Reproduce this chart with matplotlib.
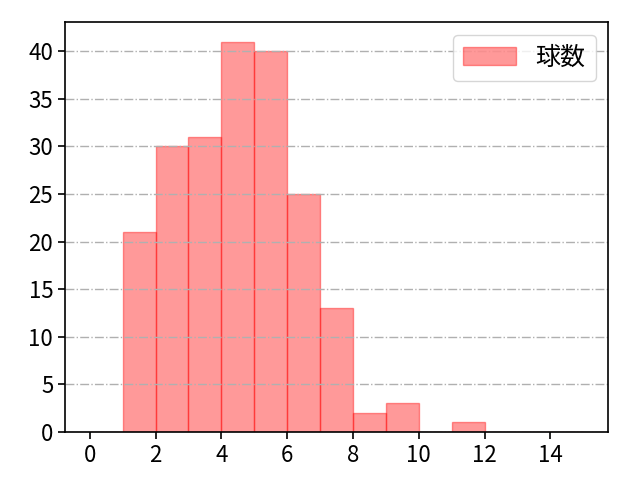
import matplotlib
matplotlib.use("Agg")
import matplotlib.pyplot as plt
import numpy as np

plt.rcParams['font.family'] = ['Noto Sans CJK JP', 'DejaVu Sans']

bin_edges = list(range(0, 16))
counts = [0, 21, 30, 31, 41, 40, 25, 13, 2, 3, 0, 1, 0, 0, 0]
label = '球数'

fig, ax = plt.subplots(figsize=(6.4, 4.8), dpi=100)
centers = [(bin_edges[i] + bin_edges[i + 1]) / 2 for i in range(len(counts))]
ax.hist(centers, bins=bin_edges, weights=counts, color='red', alpha=0.4,
        edgecolor='red', linewidth=1, label=label)
ax.set_xticks(range(0, 15, 2))
ax.grid(axis='y', linestyle='-.', color='#b0b0b0', linewidth=1)
for s in ax.spines.values():
    s.set_linewidth(1.2)
ax.legend(loc='upper right', fontsize=18, handlelength=2.1)
ax.tick_params(labelsize=16, width=1.2, length=5)
fig.subplots_adjust(left=0.1016, right=0.95, top=0.954, bottom=0.1)
fig.savefig('out.png', dpi=100)
